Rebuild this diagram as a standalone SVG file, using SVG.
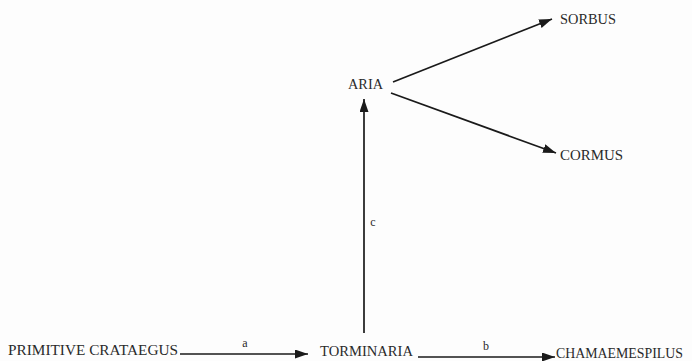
<svg xmlns="http://www.w3.org/2000/svg" width="692" height="361" viewBox="0 0 692 361">
<style>
text{font-family:"Liberation Serif","Times New Roman",serif;fill:#2a2a2a;}
.n{font-size:14px;}
.l{font-size:12px;}
.c{stroke:#1a1a1a;stroke-width:1.7;fill:none;}
</style>
<defs>
<marker id="ah" viewBox="0 0 13 9" refX="13" refY="4.5" markerWidth="13" markerHeight="9" markerUnits="userSpaceOnUse" orient="auto">
<path d="M0,0 L13,4.5 L0,9 Z" fill="#1a1a1a"/>
</marker>
</defs>
<rect width="692" height="361" fill="#fdfdfd"/>
<g id="connectors">
<line class="c" x1="180" y1="354" x2="308" y2="354" marker-end="url(#ah)"/>
<line class="c" x1="418" y1="357" x2="555" y2="357" marker-end="url(#ah)"/>
<line class="c" x1="364" y1="333" x2="364" y2="99" marker-end="url(#ah)"/>
<line class="c" x1="393" y1="82" x2="552" y2="19" marker-end="url(#ah)"/>
<line class="c" x1="391" y1="93" x2="556" y2="153" marker-end="url(#ah)"/>
<text class="l" x="245" y="347" text-anchor="middle">a</text>
<text class="l" x="486" y="350" text-anchor="middle">b</text>
<text class="l" x="373" y="226" text-anchor="middle">c</text>
</g>
<g id="primitive-crataegus"><text class="n" x="8" y="355" textLength="170" lengthAdjust="spacingAndGlyphs">PRIMITIVE CRATAEGUS</text></g>
<g id="torminaria"><text class="n" x="320" y="356" textLength="93" lengthAdjust="spacingAndGlyphs">TORMINARIA</text></g>
<g id="chamaemespilus"><text class="n" x="556" y="358" textLength="127" lengthAdjust="spacingAndGlyphs">CHAMAEMESPILUS</text></g>
<g id="aria"><text class="n" x="348" y="89" textLength="35" lengthAdjust="spacingAndGlyphs">ARIA</text></g>
<g id="sorbus"><text class="n" x="560" y="24" textLength="56" lengthAdjust="spacingAndGlyphs">SORBUS</text></g>
<g id="cormus"><text class="n" x="560" y="160" textLength="63" lengthAdjust="spacingAndGlyphs">CORMUS</text></g>
</svg>
